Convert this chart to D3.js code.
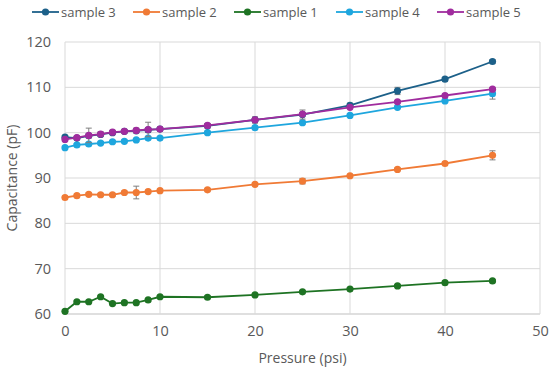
<!DOCTYPE html>
<html>
<head>
<meta charset="utf-8">
<script src="https://cdn.jsdelivr.net/npm/d3@7"></script>
<style>
  body { margin: 0; background: #fff; }
  svg text { font-family: "Open Sans", sans-serif; fill: #595959; }
</style>
</head>
<body>
<div class="chart"></div>
<script>
const width = 550;
const height = 373;
const margin = { top: 42, right: 10, bottom: 59, left: 65 };

// pressure points (psi)
const pressure = [0, 1.25, 2.5, 3.75, 5, 6.25, 7.5, 8.75, 10, 15, 20, 25, 30, 35, 40, 45];

const sample3 = [99.0, 98.8, 99.3, 99.6, 100.0, 100.3, 100.4, 100.6, 100.8, 101.5, 102.8, 104.0, 106.0, 109.2, 111.8, 115.7];
const sample2 = [85.7, 86.1, 86.4, 86.3, 86.3, 86.8, 86.8, 87.0, 87.2, 87.4, 88.6, 89.3, 90.5, 91.9, 93.2, 95.0];
const sample1 = [60.6, 62.7, 62.7, 63.8, 62.3, 62.5, 62.5, 63.1, 63.8, 63.7, 64.2, 64.9, 65.5, 66.2, 66.9, 67.3];
const sample4 = [96.7, 97.3, 97.5, 97.7, 98.0, 98.1, 98.4, 98.8, 98.8, 100.0, 101.1, 102.2, 103.8, 105.6, 107.0, 108.6];
const sample5 = [98.5, 98.9, 99.4, 99.7, 100.1, 100.3, 100.5, 100.7, 100.8, 101.6, 102.8, 104.1, 105.6, 106.8, 108.2, 109.6];

// error bar half-widths
const err3 = [0.4, 0.3, 0.4, 0.4, 0.3, 0.3, 0.4, 0.5, 0.4, 0.5, 0.7, 1.0, 0.5, 0.8, 0.4, 0.4];
const err2 = [0.3, 0.3, 0.3, 0.3, 0.3, 0.3, 1.4, 0.3, 0.3, 0.3, 0.3, 0.6, 0.3, 0.3, 0.3, 1.0];
const err1 = [0.3, 0.3, 0.3, 0.3, 0.3, 0.3, 0.3, 0.3, 0.3, 0.3, 0.3, 0.3, 0.3, 0.3, 0.3, 0.3];
const err4 = [0.3, 0.3, 0.3, 0.3, 0.3, 0.3, 0.3, 0.3, 0.3, 0.3, 0.3, 0.3, 0.3, 0.3, 0.3, 1.2];
const err5 = [0.4, 0.3, 1.6, 0.5, 0.4, 0.4, 0.5, 1.6, 0.4, 0.4, 0.3, 0.3, 0.3, 0.3, 0.3, 0.3];

const xTicks = [0, 10, 20, 30, 40, 50];
const yTicks = [60, 70, 80, 90, 100, 110, 120];

const series = [
  { name: "sample 3", values: sample3, err: err3, color: "#1c6089" },
  { name: "sample 2", values: sample2, err: err2, color: "#f07a35" },
  { name: "sample 1", values: sample1, err: err1, color: "#1e7323" },
  { name: "sample 4", values: sample4, err: err4, color: "#1ea6de" },
  { name: "sample 5", values: sample5, err: err5, color: "#a02c9e" }
];
// drawing order (sample 3 under sample 5 like the reference)
const drawOrder = ["sample 1", "sample 2", "sample 4", "sample 3", "sample 5"];

const svg = d3.select(".chart")
  .append("svg")
  .attr("width", width)
  .attr("height", height);

const xScale = d3.scaleLinear()
  .domain([0, 50])
  .range([margin.left, width - margin.right]);

const yScale = d3.scaleLinear()
  .domain([60, 120])
  .range([height - margin.bottom, margin.top]);

// gridlines
svg.append("g")
  .selectAll("line.hgrid")
  .data(yTicks)
  .enter()
  .append("line")
  .attr("x1", margin.left)
  .attr("x2", width - margin.right)
  .attr("y1", d => yScale(d))
  .attr("y2", d => yScale(d))
  .attr("stroke", d => d === 60 ? "#bfbfbf" : "#d9d9d9")
  .attr("stroke-width", 1);

svg.append("g")
  .selectAll("line.vgrid")
  .data(xTicks)
  .enter()
  .append("line")
  .attr("x1", d => xScale(d))
  .attr("x2", d => xScale(d))
  .attr("y1", yScale(120))
  .attr("y2", yScale(60))
  .attr("stroke", "#d9d9d9")
  .attr("stroke-width", 1);

// axes (labels only, gridlines drawn above)
const xAxis = d3.axisBottom(xScale).tickValues(xTicks).tickSize(0).tickPadding(12);
const yAxis = d3.axisLeft(yScale).tickValues(yTicks).tickSize(0).tickPadding(9);

svg.append("g")
  .attr("id", "x-axis")
  .attr("transform", "translate(0," + (height - margin.bottom) + ")")
  .call(xAxis)
  .call(g => g.select(".domain").remove())
  .selectAll("text")
  .style("font-size", "14.5px")
  .attr("fill", "#595959");

svg.append("g")
  .attr("id", "y-axis")
  .attr("transform", "translate(" + (margin.left - 5) + ",0)")
  .call(yAxis)
  .call(g => g.select(".domain").remove())
  .selectAll("text")
  .style("font-size", "14.5px")
  .attr("fill", "#595959");

// axis titles
svg.append("text")
  .attr("x", (xScale(0) + xScale(50)) / 2)
  .attr("y", 363)
  .attr("text-anchor", "middle")
  .style("font-size", "14px")
  .text("Pressure (psi)");

svg.append("text")
  .attr("transform", "translate(17," + ((yScale(60) + yScale(120)) / 2) + ") rotate(-90)")
  .attr("text-anchor", "middle")
  .style("font-size", "14px")
  .text("Capacitance (pF)");

const line = d3.line()
  .x((d, i) => xScale(pressure[i]))
  .y(d => yScale(d));

drawOrder.forEach(name => {
  const s = series.find(d => d.name === name);
  const g = svg.append("g").attr("class", "series");

  g.append("path")
    .datum(s.values)
    .attr("fill", "none")
    .attr("stroke", s.color)
    .attr("stroke-width", 1.8)
    .attr("d", line);

  // error bars
  const eb = g.selectAll("g.err")
    .data(s.values)
    .enter()
    .append("g")
    .attr("class", "err")
    .attr("stroke", "#7f7f7f")
    .attr("stroke-width", 1);
  eb.append("line")
    .attr("x1", (d, i) => xScale(pressure[i]))
    .attr("x2", (d, i) => xScale(pressure[i]))
    .attr("y1", (d, i) => yScale(d - s.err[i]))
    .attr("y2", (d, i) => yScale(d + s.err[i]));
  eb.append("line")
    .attr("x1", (d, i) => xScale(pressure[i]) - 3)
    .attr("x2", (d, i) => xScale(pressure[i]) + 3)
    .attr("y1", (d, i) => yScale(d - s.err[i]))
    .attr("y2", (d, i) => yScale(d - s.err[i]));
  eb.append("line")
    .attr("x1", (d, i) => xScale(pressure[i]) - 3)
    .attr("x2", (d, i) => xScale(pressure[i]) + 3)
    .attr("y1", (d, i) => yScale(d + s.err[i]))
    .attr("y2", (d, i) => yScale(d + s.err[i]));

  g.selectAll("circle")
    .data(s.values)
    .enter()
    .append("circle")
    .attr("cx", (d, i) => xScale(pressure[i]))
    .attr("cy", d => yScale(d))
    .attr("r", 3.6)
    .attr("fill", s.color);
});

// legend
const legendX = [32, 133, 234, 336, 437];
const legend = svg.append("g")
  .selectAll("g.legend")
  .data(series)
  .enter()
  .append("g")
  .attr("class", "legend")
  .attr("transform", (d, i) => "translate(" + legendX[i] + ",12)");

legend.append("line")
  .attr("x1", 0)
  .attr("x2", 27)
  .attr("stroke", d => d.color)
  .attr("stroke-width", 1.8);
legend.append("circle")
  .attr("cx", 13.5)
  .attr("r", 3.6)
  .attr("fill", d => d.color);
legend.append("text")
  .attr("x", 29)
  .attr("dy", "0.35em")
  .style("font-size", "13px")
  .text(d => d.name);
</script>
</body>
</html>
